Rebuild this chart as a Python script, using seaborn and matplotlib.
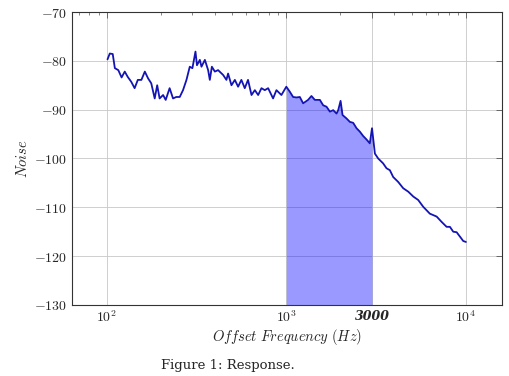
import numpy as np
import pandas as pd
import matplotlib
matplotlib.use("Agg")
import matplotlib.pyplot as plt
import seaborn as sns
from matplotlib.ticker import LogLocator, FixedLocator, NullFormatter

# data (offset frequency in Hz, noise in dB)
freq = [101, 104, 108, 111, 116, 121, 126, 131, 137, 143, 149, 156, 163, 170,
        177, 185, 191, 197, 206, 213, 224, 234, 244, 255, 266, 278, 290, 300,
        312, 318, 330, 337, 352, 367, 375, 385, 400, 417, 445, 464, 474, 495,
        517, 539, 562, 587, 612, 640, 668, 697, 727, 759, 792, 844, 881, 939,
        1000, 1045, 1091, 1140, 1189, 1241, 1322, 1380, 1442, 1538, 1604, 1675,
        1748, 1825, 1905, 1945, 2005, 2056, 2164, 2258, 2357, 2460, 2567, 2679,
        2795, 2917, 3000, 3113, 3247, 3459, 3612, 3772, 3937, 4196, 4477, 4775,
        5094, 5424, 5786, 6295, 6873, 7329, 7806, 8146, 8499, 8874, 9262, 9661,
        10000]
noise = [-79.7, -78.5, -78.6, -81.5, -81.9, -83.4, -82.2, -83.3, -84.3, -85.6,
         -83.9, -83.9, -82.2, -83.6, -84.6, -87.7, -85.0, -87.7, -87.0, -88.0,
         -85.6, -87.7, -87.4, -87.4, -86.0, -83.9, -81.2, -81.5, -78.1, -80.9,
         -79.8, -81.2, -79.8, -81.9, -83.9, -81.2, -82.2, -81.9, -82.9, -83.9,
         -82.6, -85.0, -83.9, -85.3, -83.9, -85.6, -83.9, -87.0, -86.0, -87.0,
         -85.6, -86.0, -85.6, -87.7, -86.0, -87.0, -85.3, -86.3, -87.4, -87.5,
         -87.4, -88.7, -88.0, -87.2, -88.0, -88.0, -89.1, -89.4, -90.4, -90.1,
         -90.8, -90.1, -88.2, -91.1, -91.8, -92.5, -92.7, -93.8, -94.5, -95.4,
         -96.1, -96.9, -93.8, -99.0, -100.0, -101.0, -102.0, -102.4, -103.8,
         -104.8, -106.1, -106.8, -107.8, -108.5, -109.9, -111.3, -111.9, -113.0,
         -114.0, -114.0, -115.0, -115.1, -116.0, -116.9, -117.1]

band = (1000, 3000)
y_ticks = [-130, -120, -110, -100, -90, -80, -70]
x_ticks = [100, 1000, 3000, 10000]
x_labels = ["$10^{2}$", "$10^{3}$", "3000", "$10^{4}$"]

df = pd.DataFrame({"freq": freq, "noise": noise})

sns.set_style("white")
plt.rcParams["mathtext.fontset"] = "cm"
plt.rcParams["font.family"] = ["DejaVu Serif"]

fig = plt.figure(figsize=(5.1, 3.76), dpi=100)
ax = fig.add_axes([0.141, 0.189, 0.843, 0.779])

# shaded band under the curve
sel = df[(df.freq >= band[0]) & (df.freq <= band[1])]
ax.fill_between(sel.freq, sel.noise, -130, color="blue", alpha=0.4, lw=0)

sns.lineplot(data=df, x="freq", y="noise", ax=ax, color="#1414b4", lw=1.3)

ax.set_xscale("log")
ax.set_xlim(64, 15850)
ax.set_ylim(-130, -70)

ax.xaxis.set_major_locator(FixedLocator(x_ticks))
ax.set_xticklabels(x_labels)
ax.xaxis.set_minor_locator(LogLocator(base=10, subs=np.arange(2, 10)))
ax.xaxis.set_minor_formatter(NullFormatter())
ax.set_yticks(y_ticks)
ax.set_yticklabels([f"$-{abs(v)}$" for v in y_ticks])

ax.tick_params(which="both", direction="in", top=True, right=True,
               labelsize=10, color="#555555")
ax.tick_params(which="major", length=4, width=0.6)
ax.tick_params(which="minor", length=2.5, width=0.5)

for lab in ax.get_xticklabels():
    if lab.get_text() == "3000":
        lab.set_fontstyle("italic")
        lab.set_fontweight("bold")
        lab.set_fontfamily("DejaVu Serif")
        lab.set_fontsize(9)

ax.grid(True, which="major", color="#c8c8c8", lw=0.6)
for s in ax.spines.values():
    s.set_color("#333333")
    s.set_linewidth(0.8)

ax.set_xlabel(r"$\mathit{Offset\ Frequency\ (Hz)}$", fontsize=10.5, labelpad=1)
ax.set_ylabel(r"$\mathit{Noise}$", fontsize=10.5, labelpad=3)

fig.text(0.447, 0.027, "Figure 1: Response.", ha="center", va="center",
         fontsize=9.5, family="DejaVu Serif")

fig.savefig("out.png", dpi=100)
